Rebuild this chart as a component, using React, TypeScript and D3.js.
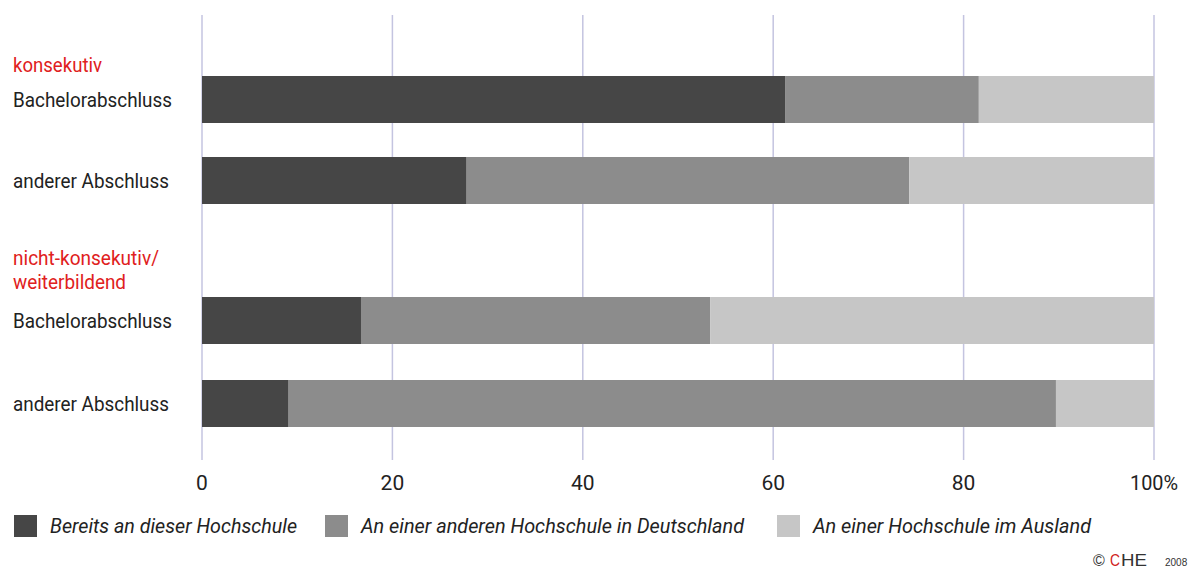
import React from "react";
import * as d3 from "d3";

const categories = ["Bachelorabschluss", "anderer Abschluss", "Bachelorabschluss", "anderer Abschluss"];
const groups = ["konsekutiv", "nicht-konsekutiv/", "weiterbildend"];
const seriesNames = ["Bereits an dieser Hochschule", "An einer anderen Hochschule in Deutschland", "An einer Hochschule im Ausland"];
const bereits = [61.3, 27.8, 16.7, 9.1];
const deutschland = [20.3, 46.5, 36.7, 80.6];
const ausland = [18.4, 25.7, 46.6, 10.3];
const tickValues = [0, 20, 40, 60, 80, 100];
const tickLabels = ["0", "20", "40", "60", "80", "100%"];
const colors = ["#464646", "#8c8c8c", "#c6c6c6"];

const FONT = "Roboto, 'Liberation Sans', sans-serif";

const catWidths = [159, 156, 159, 156];
const groupWidths = [89, 146, 113];
const legendWidths = [247, 383, 278];

export default function App() {
  const W = 1195, H = 574;
  const x = d3.scaleLinear().domain([0, 100]).range([202, 1154]);
  const rowY = [76, 157, 297, 380];
  const barH = 47;
  const rows = categories.map((c, i) => ({ c, vals: [bereits[i], deutschland[i], ausland[i]] }));
  const legendX = [14, 325, 777];
  const groupY = [72, 265, 289];

  return (
    <svg width={W} height={H} style={{ position: "absolute", left: 0, top: 0, background: "#fff", fontFamily: FONT }}>
      {tickValues.map((t, i) => (
        <g key={i}>
          <line x1={x(t)} x2={x(t)} y1={15} y2={460} stroke="#c4c4e0" strokeWidth={1.5} />
          <text x={x(t)} y={490} fontSize={21} fill="#222" textAnchor="middle"
            textLength={i === 5 ? 48 : undefined} lengthAdjust="spacingAndGlyphs">{tickLabels[i]}</text>
        </g>
      ))}
      {rows.map((r, i) => {
        let acc = 0;
        return (
          <g key={i}>
            {r.vals.map((v, j) => {
              const x0 = acc;
              acc += v;
              return <rect key={j} x={x(x0)} y={rowY[i]} width={x(Math.min(acc, 100)) - x(x0)} height={barH} fill={colors[j]} />;
            })}
            <text x={13} y={rowY[i] + barH / 2 + 7} fontSize={21} fill="#222"
              textLength={catWidths[i]} lengthAdjust="spacingAndGlyphs">{r.c}</text>
          </g>
        );
      })}
      {groups.map((g, i) => (
        <text key={i} x={13} y={groupY[i]} fontSize={20} fill="#e02020"
          textLength={groupWidths[i]} lengthAdjust="spacingAndGlyphs">{g}</text>
      ))}
      {seriesNames.map((s, i) => (
        <g key={i}>
          <rect x={legendX[i]} y={515} width={23} height={22} fill={colors[i]} />
          <text x={legendX[i] + 36} y={533} fontSize={21} fontStyle="italic" fill="#222"
            textLength={legendWidths[i]} lengthAdjust="spacingAndGlyphs">{s}</text>
        </g>
      ))}
      <g fontFamily="'Liberation Sans', sans-serif">
        <text x={1093} y={566} fontSize={16} fill="#333">©</text>
        <text x={1110} y={566} fontSize={17} fill="#d02020" textLength={10} lengthAdjust="spacingAndGlyphs">C</text>
        <text x={1121} y={566} fontSize={17} fill="#333" textLength={26} lengthAdjust="spacingAndGlyphs">HE</text>
        <text x={1165} y={566} fontSize={10} fill="#333">2008</text>
      </g>
    </svg>
  );
}
